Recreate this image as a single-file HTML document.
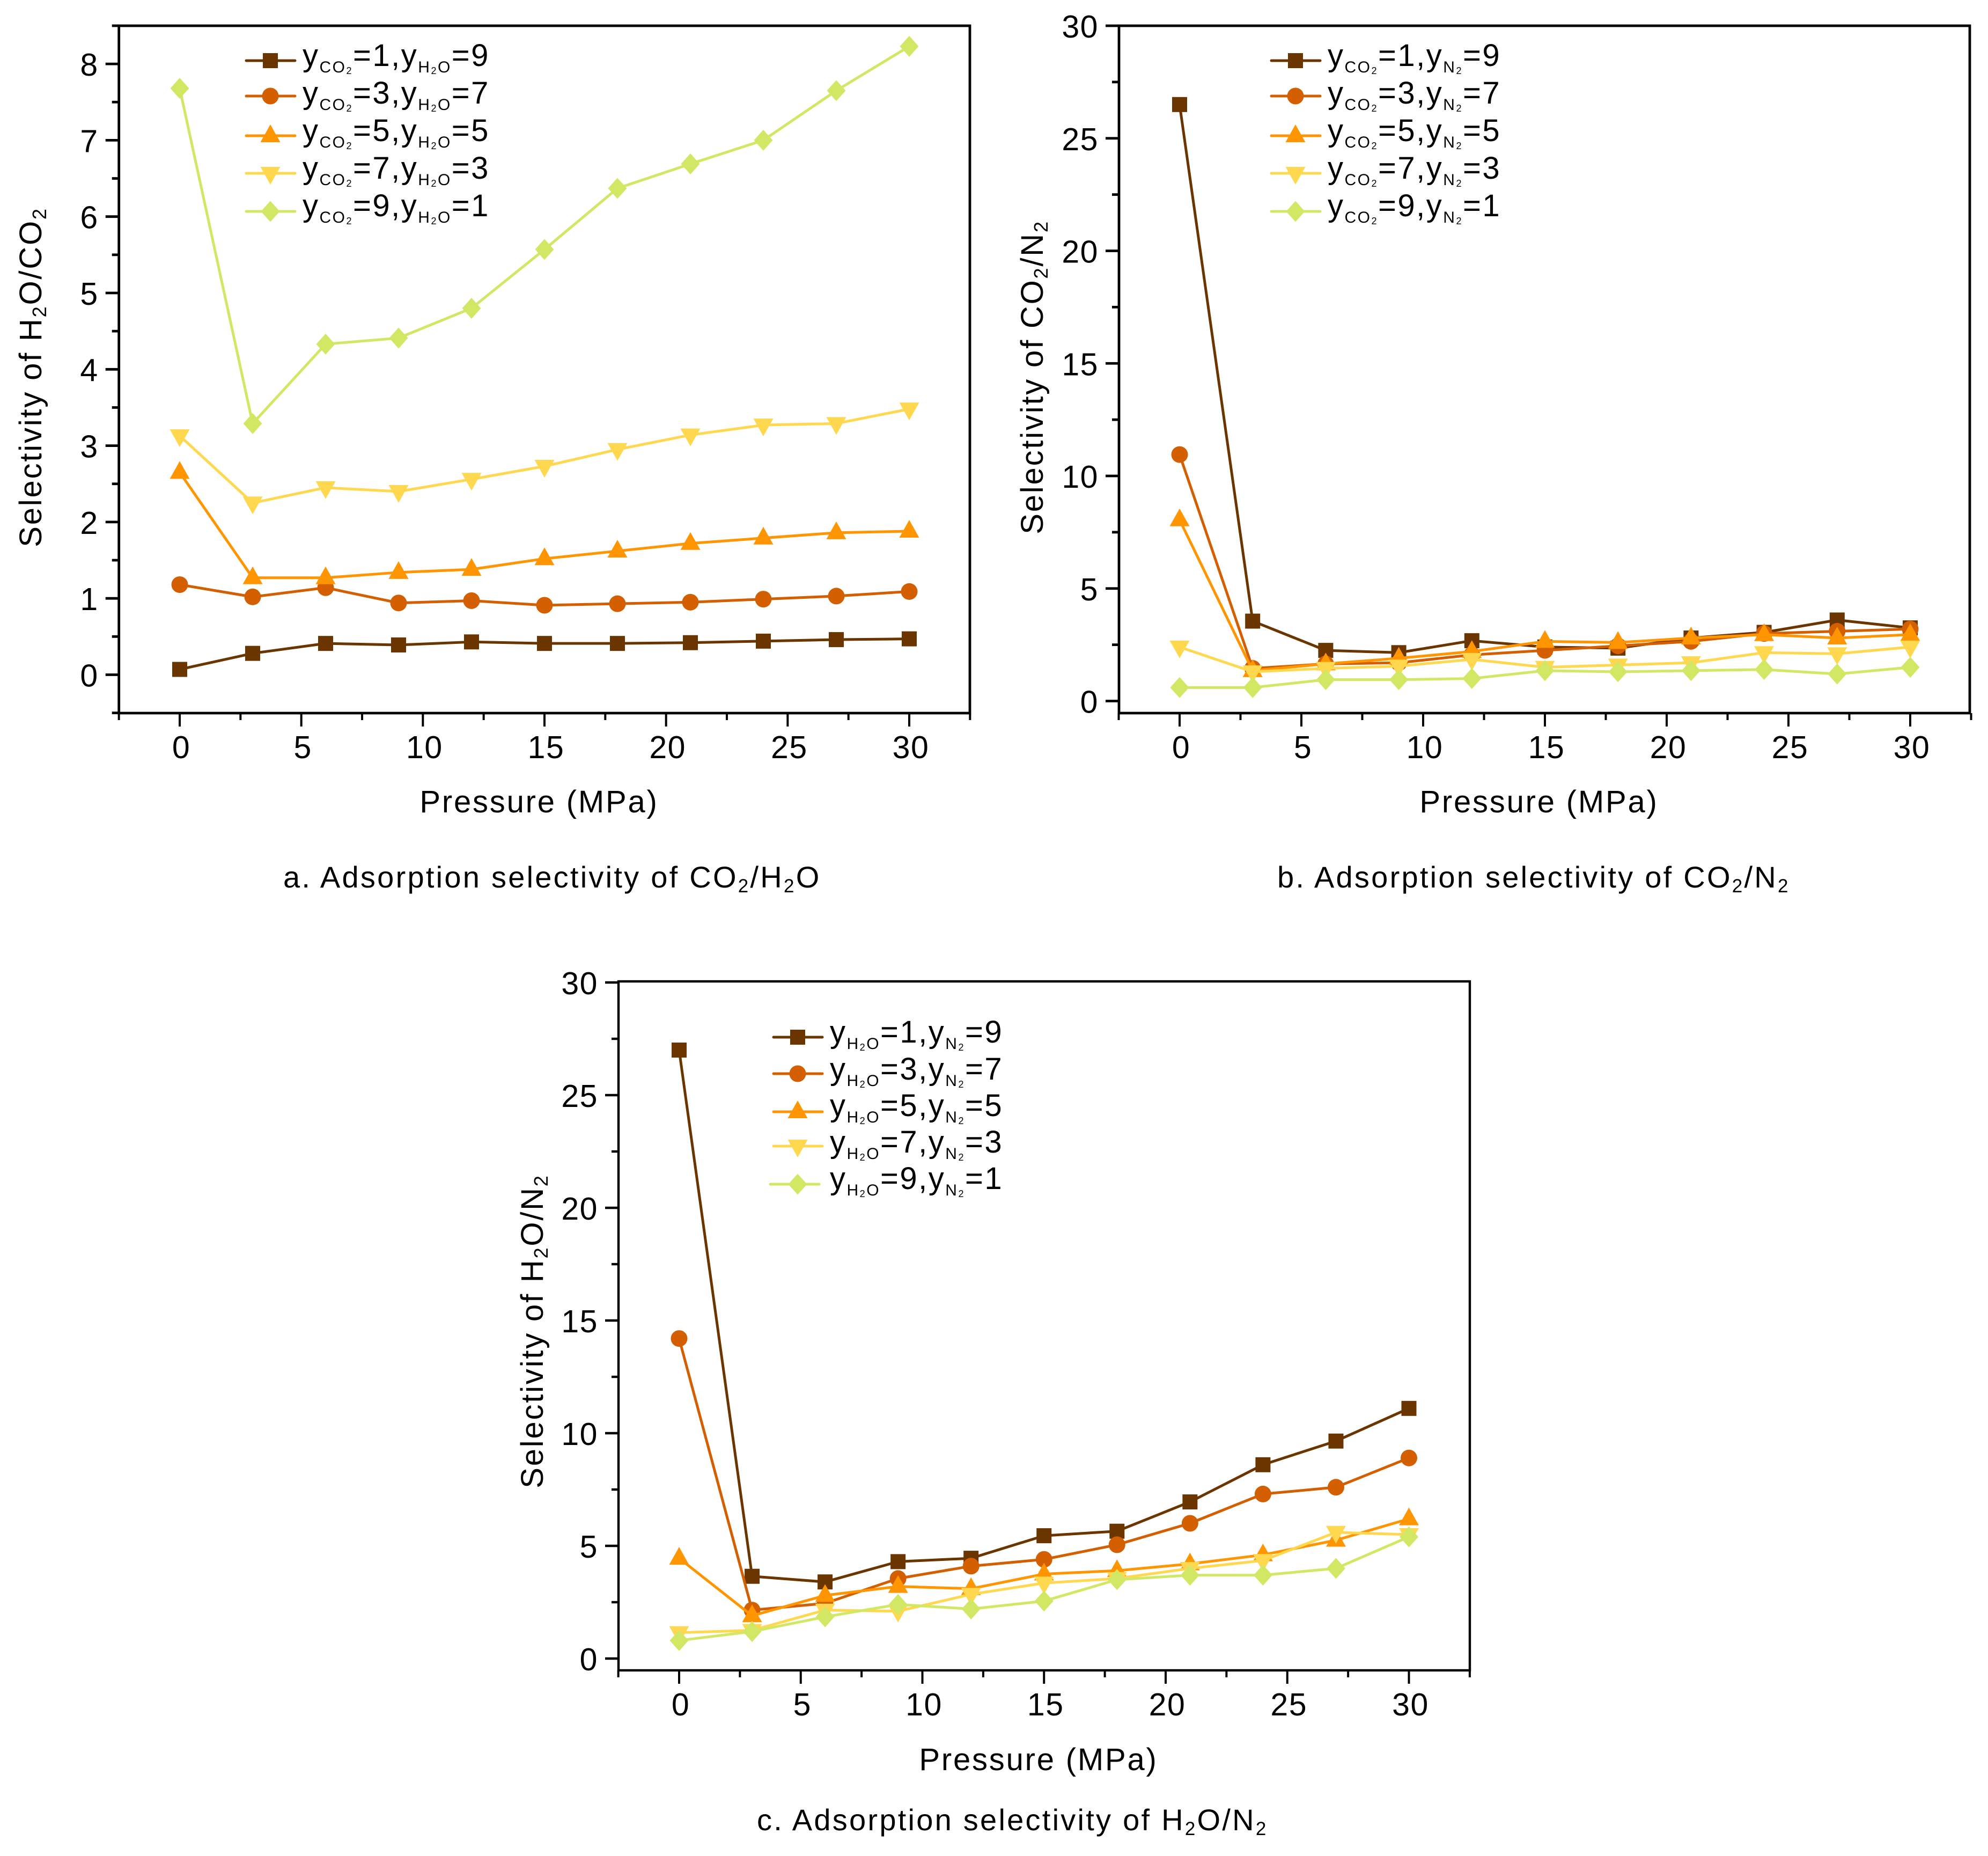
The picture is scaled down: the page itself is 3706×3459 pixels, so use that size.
<!DOCTYPE html>
<html lang="en">
<head>
<meta charset="utf-8">
<title>Adsorption selectivity charts</title>
<style>
html,body{margin:0;padding:0;background:#fff;}
svg{display:block;}
text{font-family:"Liberation Sans",Arial,sans-serif;fill:#000;}
.title{font-size:58px;letter-spacing:2.8px;}
.caption{font-size:56px;letter-spacing:3.25px;}
.legend{font-size:58px;letter-spacing:2.5px;}
.tick{font-size:59px;letter-spacing:1.5px;}
</style>
</head>
<body>
<svg id="figure" xmlns="http://www.w3.org/2000/svg" width="3706" height="3459" viewBox="0 0 3706 3459">
  <rect x="0" y="0" width="3706" height="3459" fill="#ffffff"/>

  <g id="panel-a"></g>
  <g id="panel-b"></g>
  <g id="panel-c"></g>

  <!-- axis titles -->
  <text class="title" x="1005" y="1514" text-anchor="middle">Pressure (MPa)</text>
  <text class="title" x="2869" y="1514" text-anchor="middle">Pressure (MPa)</text>
  <text class="title" x="1936" y="3299" text-anchor="middle">Pressure (MPa)</text>

  <text class="title" transform="translate(77 703) rotate(-90)" text-anchor="middle">Selectivity of H<tspan font-size="36" dy="9">2</tspan><tspan dy="-9">O/CO</tspan><tspan font-size="36" dy="9">2</tspan></text>
  <text class="title" transform="translate(1944 703) rotate(-90)" text-anchor="middle">Selectivity of CO<tspan font-size="36" dy="9">2</tspan><tspan dy="-9">/N</tspan><tspan font-size="36" dy="9">2</tspan></text>
  <text class="title" transform="translate(1012 2481) rotate(-90)" text-anchor="middle">Selectivity of H<tspan font-size="36" dy="9">2</tspan><tspan dy="-9">O/N</tspan><tspan font-size="36" dy="9">2</tspan></text>

  <!-- captions -->
  <text class="caption" x="528" y="1654">a. Adsorption selectivity of CO<tspan font-size="35" dy="9">2</tspan><tspan dy="-9">/H</tspan><tspan font-size="35" dy="9">2</tspan><tspan dy="-9">O</tspan></text>
  <text class="caption" x="2381" y="1654">b. Adsorption selectivity of CO<tspan font-size="35" dy="9">2</tspan><tspan dy="-9">/N</tspan><tspan font-size="35" dy="9">2</tspan></text>
  <text class="caption" x="1411" y="3411">c. Adsorption selectivity of H<tspan font-size="35" dy="9">2</tspan><tspan dy="-9">O/N</tspan><tspan font-size="35" dy="9">2</tspan></text>

  <!-- legend a -->
  <g>
    <text class="legend" x="564" y="123">y<tspan font-size="30" dy="12">CO</tspan><tspan font-size="18" dy="3">2</tspan><tspan dy="-15">=1,y</tspan><tspan font-size="30" dy="12">H</tspan><tspan font-size="18" dy="3">2</tspan><tspan font-size="30" dy="-3">O</tspan><tspan dy="-12">=9</tspan></text>
    <text class="legend" x="564" y="193">y<tspan font-size="30" dy="12">CO</tspan><tspan font-size="18" dy="3">2</tspan><tspan dy="-15">=3,y</tspan><tspan font-size="30" dy="12">H</tspan><tspan font-size="18" dy="3">2</tspan><tspan font-size="30" dy="-3">O</tspan><tspan dy="-12">=7</tspan></text>
    <text class="legend" x="564" y="263">y<tspan font-size="30" dy="12">CO</tspan><tspan font-size="18" dy="3">2</tspan><tspan dy="-15">=5,y</tspan><tspan font-size="30" dy="12">H</tspan><tspan font-size="18" dy="3">2</tspan><tspan font-size="30" dy="-3">O</tspan><tspan dy="-12">=5</tspan></text>
    <text class="legend" x="564" y="333">y<tspan font-size="30" dy="12">CO</tspan><tspan font-size="18" dy="3">2</tspan><tspan dy="-15">=7,y</tspan><tspan font-size="30" dy="12">H</tspan><tspan font-size="18" dy="3">2</tspan><tspan font-size="30" dy="-3">O</tspan><tspan dy="-12">=3</tspan></text>
    <text class="legend" x="564" y="403">y<tspan font-size="30" dy="12">CO</tspan><tspan font-size="18" dy="3">2</tspan><tspan dy="-15">=9,y</tspan><tspan font-size="30" dy="12">H</tspan><tspan font-size="18" dy="3">2</tspan><tspan font-size="30" dy="-3">O</tspan><tspan dy="-12">=1</tspan></text>
  </g>
  <!-- legend b -->
  <g>
    <text class="legend" x="2475" y="123">y<tspan font-size="30" dy="12">CO</tspan><tspan font-size="18" dy="3">2</tspan><tspan dy="-15">=1,y</tspan><tspan font-size="30" dy="12">N</tspan><tspan font-size="18" dy="3">2</tspan><tspan dy="-15">=9</tspan></text>
    <text class="legend" x="2475" y="193">y<tspan font-size="30" dy="12">CO</tspan><tspan font-size="18" dy="3">2</tspan><tspan dy="-15">=3,y</tspan><tspan font-size="30" dy="12">N</tspan><tspan font-size="18" dy="3">2</tspan><tspan dy="-15">=7</tspan></text>
    <text class="legend" x="2475" y="263">y<tspan font-size="30" dy="12">CO</tspan><tspan font-size="18" dy="3">2</tspan><tspan dy="-15">=5,y</tspan><tspan font-size="30" dy="12">N</tspan><tspan font-size="18" dy="3">2</tspan><tspan dy="-15">=5</tspan></text>
    <text class="legend" x="2475" y="333">y<tspan font-size="30" dy="12">CO</tspan><tspan font-size="18" dy="3">2</tspan><tspan dy="-15">=7,y</tspan><tspan font-size="30" dy="12">N</tspan><tspan font-size="18" dy="3">2</tspan><tspan dy="-15">=3</tspan></text>
    <text class="legend" x="2475" y="403">y<tspan font-size="30" dy="12">CO</tspan><tspan font-size="18" dy="3">2</tspan><tspan dy="-15">=9,y</tspan><tspan font-size="30" dy="12">N</tspan><tspan font-size="18" dy="3">2</tspan><tspan dy="-15">=1</tspan></text>
  </g>
  <!-- legend c -->
  <g>
    <text class="legend" x="1547" y="1943">y<tspan font-size="30" dy="12">H</tspan><tspan font-size="18" dy="3">2</tspan><tspan font-size="30" dy="-3">O</tspan><tspan dy="-12">=1,y</tspan><tspan font-size="30" dy="12">N</tspan><tspan font-size="18" dy="3">2</tspan><tspan dy="-15">=9</tspan></text>
    <text class="legend" x="1547" y="2012">y<tspan font-size="30" dy="12">H</tspan><tspan font-size="18" dy="3">2</tspan><tspan font-size="30" dy="-3">O</tspan><tspan dy="-12">=3,y</tspan><tspan font-size="30" dy="12">N</tspan><tspan font-size="18" dy="3">2</tspan><tspan dy="-15">=7</tspan></text>
    <text class="legend" x="1547" y="2080">y<tspan font-size="30" dy="12">H</tspan><tspan font-size="18" dy="3">2</tspan><tspan font-size="30" dy="-3">O</tspan><tspan dy="-12">=5,y</tspan><tspan font-size="30" dy="12">N</tspan><tspan font-size="18" dy="3">2</tspan><tspan dy="-15">=5</tspan></text>
    <text class="legend" x="1547" y="2148">y<tspan font-size="30" dy="12">H</tspan><tspan font-size="18" dy="3">2</tspan><tspan font-size="30" dy="-3">O</tspan><tspan dy="-12">=7,y</tspan><tspan font-size="30" dy="12">N</tspan><tspan font-size="18" dy="3">2</tspan><tspan dy="-15">=3</tspan></text>
    <text class="legend" x="1547" y="2216">y<tspan font-size="30" dy="12">H</tspan><tspan font-size="18" dy="3">2</tspan><tspan font-size="30" dy="-3">O</tspan><tspan dy="-12">=9,y</tspan><tspan font-size="30" dy="12">N</tspan><tspan font-size="18" dy="3">2</tspan><tspan dy="-15">=1</tspan></text>
  </g>
</svg>

<script>
// ---- data ----
const pressure = [0, 3, 6, 9, 12, 15, 18, 21, 24, 27, 30];
const xTickLabels = [0, 5, 10, 15, 20, 25, 30];
const yTicksA = [0, 1, 2, 3, 4, 5, 6, 7, 8];
const yTicksB = [0, 5, 10, 15, 20, 25, 30];
const yTicksC = [0, 5, 10, 15, 20, 25, 30];

const panelA1 = [0.07, 0.28, 0.41, 0.39, 0.43, 0.41, 0.41, 0.42, 0.44, 0.46, 0.47];
const panelA2 = [1.18, 1.02, 1.14, 0.94, 0.97, 0.91, 0.93, 0.95, 0.99, 1.03, 1.09];
const panelA3 = [2.65, 1.27, 1.27, 1.34, 1.38, 1.52, 1.62, 1.72, 1.79, 1.86, 1.88];
const panelA4 = [3.13, 2.25, 2.45, 2.40, 2.56, 2.73, 2.95, 3.14, 3.27, 3.29, 3.48];
const panelA5 = [7.68, 3.29, 4.33, 4.41, 4.80, 5.57, 6.37, 6.69, 7.00, 7.65, 8.23];

const panelB1 = [26.5, 3.55, 2.25, 2.15, 2.68, 2.40, 2.35, 2.80, 3.05, 3.60, 3.25];
const panelB2 = [10.95, 1.45, 1.65, 1.70, 2.05, 2.25, 2.45, 2.65, 3.00, 3.10, 3.20];
const panelB3 = [8.05, 1.35, 1.65, 1.90, 2.20, 2.65, 2.60, 2.80, 2.95, 2.80, 2.95];
const panelB4 = [2.40, 1.30, 1.45, 1.55, 1.85, 1.50, 1.60, 1.70, 2.15, 2.10, 2.40];
const panelB5 = [0.60, 0.60, 0.95, 0.95, 1.00, 1.35, 1.30, 1.35, 1.40, 1.20, 1.50];

const panelC1 = [27.0, 3.65, 3.40, 4.30, 4.45, 5.45, 5.65, 6.95, 8.60, 9.65, 11.1];
const panelC2 = [14.2, 2.15, 2.45, 3.55, 4.10, 4.40, 5.05, 6.00, 7.30, 7.60, 8.90];
const panelC3 = [4.45, 1.90, 2.80, 3.20, 3.10, 3.75, 3.90, 4.20, 4.60, 5.25, 6.20];
const panelC4 = [1.15, 1.25, 2.15, 2.10, 2.85, 3.35, 3.55, 4.00, 4.35, 5.60, 5.50];
const panelC5 = [0.80, 1.20, 1.85, 2.40, 2.20, 2.55, 3.50, 3.70, 3.70, 4.00, 5.40];

const seriesColors = ['#6b3500', '#d45f00', '#ff9500', '#ffd84f', '#d2e864'];
const markerKinds = ['square', 'circle', 'up', 'down', 'diamond'];

const NS = 'http://www.w3.org/2000/svg';

function make(tag, parent, attrs) {
  const node = document.createElementNS(NS, tag);
  Object.keys(attrs).forEach(function (k) { node.setAttribute(k, attrs[k]); });
  parent.appendChild(node);
  return node;
}

function drawMarker(parent, kind, cx, cy, color) {
  let el;
  if (kind === 'square') {
    el = make('rect', parent, { x: cx - 14, y: cy - 14, width: 28, height: 28, fill: color });
  } else if (kind === 'circle') {
    el = make('circle', parent, { cx: cx, cy: cy, r: 15.5, fill: color });
  } else if (kind === 'up') {
    el = make('polygon', parent, { points: (cx) + ',' + (cy - 21) + ' ' + (cx + 18.5) + ',' + (cy + 12) + ' ' + (cx - 18.5) + ',' + (cy + 12), fill: color });
  } else if (kind === 'down') {
    el = make('polygon', parent, { points: (cx) + ',' + (cy + 21) + ' ' + (cx + 18.5) + ',' + (cy - 12) + ' ' + (cx - 18.5) + ',' + (cy - 12), fill: color });
  } else {
    el = make('polygon', parent, { points: (cx) + ',' + (cy - 19.5) + ' ' + (cx + 17.5) + ',' + (cy) + ' ' + (cx) + ',' + (cy + 19.5) + ' ' + (cx - 17.5) + ',' + (cy), fill: color });
  }
  
  
  return el;
}

function drawPanel(cfg) {
  const root = document.getElementById(cfg.id);
  const xScale = function (v) { return cfg.x0 + (v - 0) * (cfg.x30 - cfg.x0) / 30; };
  const yScale = function (v) { return cfg.yZero - v * cfg.yUnit; };

  // frame
  const frame = make('rect', root, { x: cfg.left, y: cfg.top, width: cfg.right - cfg.left, height: cfg.bottom - cfg.top, fill: 'none', stroke: '#000', 'stroke-width': cfg.axisWidth });
  
  

  // x ticks (major + minor)
  for (let i = -1; i <= 13; i++) {
    const v = i * 2.5;
    const major = i >= 0 && i % 2 === 0;
    const px = xScale(v);
    const tick = make('line', root, { x1: px, x2: px, y1: cfg.bottom, y2: cfg.bottom + (major ? 25 : 13), stroke: '#000', 'stroke-width': 4 });
    
    
  }
  xTickLabels.forEach(function (label) {
    const t = make('text', root, { x: xScale(label) + 3, y: cfg.bottom + 84, 'text-anchor': 'middle', 'class': 'tick' });
    t.textContent = label;
    
    
  });

  // y ticks
  cfg.yTicks.forEach(function (label, i) {
    const py = yScale(label);
    const tick = make('line', root, { x1: cfg.left - 25, x2: cfg.left, y1: py, y2: py, stroke: '#000', 'stroke-width': cfg.axisWidth });
    
    
    const t = make('text', root, { x: cfg.left - 38, y: py + 22, 'text-anchor': 'end', 'class': 'tick' });
    t.textContent = label;
    
    
  });
  const minorStep = cfg.yTicks[1] - cfg.yTicks[0];
  let mv = cfg.yTicks[0] - minorStep / 2;
  const maxVal = (cfg.yZero - cfg.top) / cfg.yUnit + 0.01;
  const minVal = (cfg.yZero - cfg.bottom) / cfg.yUnit - 0.01;
  while (mv <= maxVal) {
    if (mv >= minVal) {
      const py = yScale(mv);
      const tick = make('line', root, { x1: cfg.left - 13, x2: cfg.left, y1: py, y2: py, stroke: '#000', 'stroke-width': cfg.axisWidth });
      
      
    }
    mv += minorStep;
  }

  // series
  cfg.series.forEach(function (values, s) {
    const group = make('g', root, {});
    
    
    const pts = values.map(function (v, i) { return xScale(pressure[i]) + ',' + yScale(v); }).join(' ');
    const line = make('polyline', group, { points: pts, fill: 'none', stroke: seriesColors[s], 'stroke-width': 5, 'stroke-linejoin': 'round' });
    
    
    values.forEach(function (v, i) {
      drawMarker(group, markerKinds[s], xScale(pressure[i]), yScale(v), seriesColors[s]);
    });
  });

  // legend keys
  cfg.legendRows.forEach(function (rowY, s) {
    const shift = cfg.legendShift[s];
    const key = make('line', root, { x1: cfg.legendX1 + shift, x2: cfg.legendX2 + shift, y1: rowY, y2: rowY, stroke: seriesColors[s], 'stroke-width': 5, 'stroke-linecap': 'round' });
    
    
    drawMarker(root, markerKinds[s], cfg.legendMarkerX, rowY + cfg.legendMarkerDy[s], seriesColors[s]);
  });
}

drawPanel({
  id: 'panel-a', left: 221.7, right: 1808, top: 48, bottom: 1329,
  x0: 335, x30: 1695, yZero: 1257.5, yUnit: 142.3, axisWidth: 4.8,
  yTicks: yTicksA,
  series: [panelA1, panelA2, panelA3, panelA4, panelA5],
  legendRows: [113, 179, 253, 323, 394], legendX1: 459, legendX2: 550, legendMarkerX: 504,
  legendShift: [0, 0, 0, 0, 0], legendMarkerDy: [0, 0, 0, 0, 0]
});
drawPanel({
  id: 'panel-b', left: 2086, right: 3672, top: 48, bottom: 1329,
  x0: 2199, x30: 3561, yZero: 1306.5, yUnit: 41.95, axisWidth: 4.8,
  yTicks: yTicksB,
  series: [panelB1, panelB2, panelB3, panelB4, panelB5],
  legendRows: [113, 179, 253, 323, 394], legendX1: 2370, legendX2: 2461, legendMarkerX: 2415,
  legendShift: [0, 0, 0, 0, 0], legendMarkerDy: [0, 0, 0, 0, 0]
});
drawPanel({
  id: 'panel-c', left: 1153, right: 2740, top: 1829, bottom: 3113,
  x0: 1266, x30: 2626.5, yZero: 3091, yUnit: 42, axisWidth: 4.4,
  yTicks: yTicksC,
  series: [panelC1, panelC2, panelC3, panelC4, panelC5],
  legendRows: [1933, 2001, 2072, 2136, 2207], legendX1: 1442, legendX2: 1533, legendMarkerX: 1487,
  legendShift: [0, 0, 0, 0, -6], legendMarkerDy: [0, 0, 0, 0, 0]
});
</script>
</body>
</html>
